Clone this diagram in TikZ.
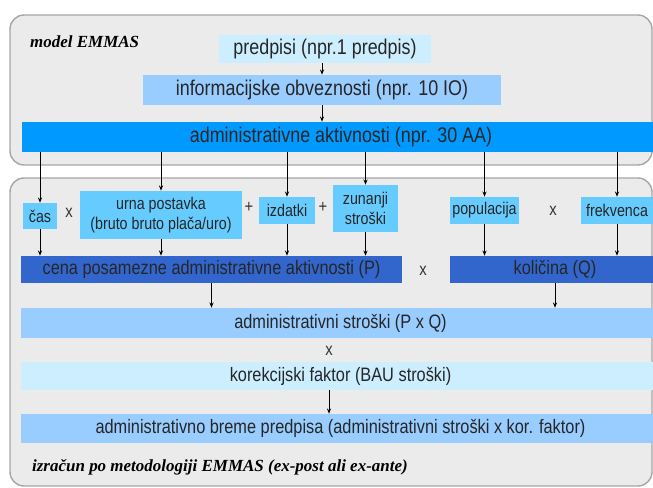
\documentclass[tikz,border=0pt]{standalone}
\usepackage{fontspec}
\setmainfont[FakeStretch=0.84]{Liberation Sans}
\newfontfamily\labelfont{Liberation Serif}
\usetikzlibrary{arrows.meta}
\definecolor{panelfill}{HTML}{EBEBEB}
\definecolor{panelline}{HTML}{A6A6A6}
\definecolor{palebox}{HTML}{CCEEFF}
\definecolor{lightbox}{HTML}{99CCFF}
\definecolor{brightbox}{HTML}{0099FF}
\definecolor{cyanbox}{HTML}{66CCFF}
\definecolor{darkbox}{HTML}{3366CC}
\tikzset{
panel/.style={draw=panelline, fill=panelfill, line width=1.2pt, rounded corners=12pt},
box/.style={rectangle, inner sep=0pt, align=center, text=black!85},
bigtext/.style={font=\fontsize{18.2}{20}\selectfont},
midtext/.style={font=\fontsize{16.6}{19}\selectfont},
smalltext/.style={font=\fontsize{14.5}{17.5}\selectfont},
op/.style={font=\fontsize{15}{17}\selectfont, text=black!80},
caption/.style={anchor=west, font=\labelfont\bfseries\itshape\fontsize{14.5}{16}\selectfont},
arr/.style={-{Stealth[length=4.5pt,width=3.5pt]}, line width=0.8pt},
}
\begin{document}
\begin{tikzpicture}[x=0.03cm, y=-0.03cm]
    \useasboundingbox (0,0) rectangle (653,488);
    % panels
    \draw[panel] (10,15) rectangle (652,165);
    \draw[panel] (10,178) rectangle (652,486);
    \node[caption] (model) at (26,42) {model EMMAS};
    \node[caption] (izracun) at (28,467) {izračun po metodologiji EMMAS (ex-post ali ex-ante)};
    % top chain
    \node[box, bigtext, fill=palebox, minimum width=6.36cm, minimum height=0.84cm] (pred) at (325,49) {predpisi (npr.1 predpis)};
    \node[box, bigtext, fill=lightbox, minimum width=10.74cm, minimum height=0.9cm] (info) at (322,90) {informacijske obveznosti (npr. 10 IO)};
    \node[box, bigtext, fill=brightbox, minimum width=19.14cm, minimum height=0.9cm] (aa) at (341,137) {administrativne aktivnosti (npr. 30 AA)};
    % factors
    \node[box, smalltext, fill=cyanbox, minimum width=1.02cm, minimum height=0.78cm] (cas) at (40,216) {čas};
    \node[box, smalltext, fill=cyanbox, minimum width=4.86cm, minimum height=1.44cm] (urna) at (161,215) {urna postavka\\(bruto bruto plača/uro)};
    \node[box, smalltext, fill=cyanbox, minimum width=1.68cm, minimum height=0.81cm] (izdatki) at (287,210.5) {izdatki};
    \node[box, smalltext, fill=cyanbox, minimum width=1.95cm, minimum height=1.41cm] (zunanji) at (365.5,208.5) {zunanji\\stroški};
    \node[box, smalltext, fill=cyanbox, minimum width=2.07cm, minimum height=0.81cm] (pop) at (484.5,210.5) {populacija};
    \node[box, smalltext, fill=cyanbox, minimum width=2.16cm, minimum height=0.81cm] (frek) at (617,210.5) {frekvenca};
    \node[op] (x1) at (69,213) {x};
    \node[op] (p1) at (249,207) {+};
    \node[op] (p2) at (323,207) {+};
    \node[op] (x2) at (553,211) {x};
    % P and Q
    \node[box, midtext, fill=darkbox, minimum width=11.43cm, minimum height=0.81cm] (cena) at (211.5,269.5) {cena posamezne administrativne aktivnosti (P)};
    \node[box, midtext, fill=darkbox, minimum width=6.3cm, minimum height=0.81cm] (kol) at (555,269.5) {količina (Q)};
    \node[op] (x3) at (423,271) {x};
    % result chain
    \node[box, midtext, fill=lightbox, minimum width=19.17cm, minimum height=0.9cm] (stroski) at (340.5,323) {administrativni stroški (P x Q)};
    \node[op] (x4) at (329,351) {x};
    \node[box, midtext, fill=palebox, minimum width=19.17cm, minimum height=0.84cm] (kor) at (340.5,376) {korekcijski faktor (BAU stroški)};
    \node[box, midtext, fill=lightbox, minimum width=19.17cm, minimum height=0.87cm] (breme) at (340.5,428.5) {administrativno breme predpisa (administrativni stroški x kor. faktor)};
    % arrows
    \draw[arr] (pred.south -| info) -- (info.north);
    \draw[arr] (info.south) -- (aa.north -| info.south);
    \foreach \f/\t in {cas/cena, urna/cena, izdatki/cena, zunanji/cena, pop/kol, frek/kol} {
        \draw[arr] (aa.south -| \f.north) -- (\f.north);
        \draw[arr] (\f.south) -- (\t.north -| \f.south);
    }
    \draw[arr] (cena.south) -- (stroski.north -| cena.south);
    \draw[arr] (kol.south) -- (stroski.north -| kol.south);
    \draw[arr] (kor.south -| x4) -- (breme.north -| x4);
\end{tikzpicture}
\end{document}
